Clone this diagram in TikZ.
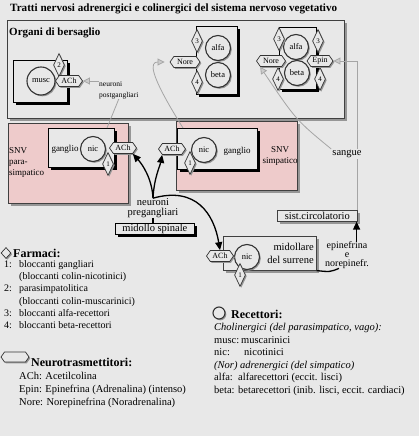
\documentclass[tikz,border=0pt]{standalone}
\usepackage{fontspec}
\setmainfont{Liberation Serif}
\usepackage{xcolor}
\usepackage{tikz}
\usetikzlibrary{shapes.geometric, shapes.symbols, arrows.meta, shadows}

\definecolor{bgcol}{RGB}{232,232,232}
\definecolor{pinkcol}{RGB}{238,203,203}
\definecolor{shadecol}{RGB}{150,150,150}
\definecolor{wirecol}{RGB}{165,165,165}

\begin{document}
\begin{tikzpicture}[x=1pt, y=-1pt,
    panel/.style={draw=black!75, line width=0.6pt, fill=bgcol, inner sep=0pt,
      drop shadow={shadow xshift=3pt, shadow yshift=-3pt, fill=shadecol, opacity=1}},
    pinkpanel/.style={panel, fill=pinkcol},
    organ/.style={draw=black, line width=1pt, fill=bgcol, inner sep=0pt,
      drop shadow={shadow xshift=2.5pt, shadow yshift=-2.5pt, fill=black, opacity=1}},
    spinebox/.style={organ, line width=0.7pt, font=\fontsize{10.5}{11}\selectfont},
    recept/.style={circle, draw=black!80, line width=1.1pt, fill=bgcol, inner sep=0pt,
      minimum size=25pt, font=\fontsize{8.5}{9}\selectfont,
      drop shadow={shadow xshift=1.3pt, shadow yshift=-1.3pt, fill=shadecol, opacity=1}},
    drug/.style={diamond, shape aspect=0.5, draw=black!80, line width=0.7pt, fill=bgcol,
      inner sep=0pt, minimum width=11pt, minimum height=23pt, font=\fontsize{7}{8}\selectfont,
      drop shadow={shadow xshift=1.3pt, shadow yshift=-1.3pt, fill=shadecol, opacity=1}},
    transm/.style={signal, signal to=east and west, signal pointer angle=110,
      draw=black!80, line width=0.7pt, fill=bgcol, inner sep=1pt,
      minimum width=27pt, minimum height=11pt, font=\fontsize{8}{9}\selectfont,
      drop shadow={shadow xshift=1.3pt, shadow yshift=-1.3pt, fill=shadecol, opacity=1}},
    titletext/.style={font=\bfseries\fontsize{11.1}{12}\selectfont, inner sep=0pt},
    headtext/.style={font=\bfseries\fontsize{12}{13}\selectfont, inner sep=0pt},
    smalltext/.style={font=\fontsize{9}{11}\selectfont, inner sep=0pt},
    tinytext/.style={font=\fontsize{7.5}{11}\selectfont, inner sep=0pt},
    labtext/.style={font=\fontsize{10.5}{10}\selectfont, inner sep=0pt},
    listtext/.style={font=\fontsize{10.5}{13}\selectfont, inner sep=0pt},
    blackarrow/.style={draw=black, line width=1.3pt, -{Triangle[length=8pt, width=7pt]}},
    blackline/.style={draw=black, line width=1.3pt},
    greyarrow/.style={draw=wirecol, line width=0.8pt,
      -{Triangle[length=7pt, width=7pt, fill=gray!40, color=wirecol]}},
    greyline/.style={draw=wirecol, line width=0.8pt}]

  % background
  \fill[bgcol] (0,0) rectangle (419,436);
  \useasboundingbox (0,0) rectangle (419,436);

  \node[titletext, anchor=west] (title) at (10,9)
    {Tratti nervosi adrenergici e colinergici del sistema nervoso vegetativo};

  % Organi di bersaglio
  \node[panel, anchor=north west, minimum width=337pt, minimum height=98pt] (organi) at (7,20) {};
  \node[headtext, font=\bfseries\fontsize{11}{12}\selectfont, anchor=west] (organilab) at (9,33) {Organi di bersaglio};

  \node[organ, anchor=north west, minimum width=54pt, minimum height=42pt] (muscorg) at (13,60) {};
  \node[recept, minimum size=28pt] (musc) at (41,81) {musc};
  \node[drug] (dmusc) at (59,65) {2};
  \node[transm] (achmusc) at (69,81) {ACh};
  \node[tinytext, anchor=north west, align=left] (postlab) at (99,81) {neuroni\\postgangliari};

  \node[organ, anchor=north west, minimum width=41pt, minimum height=68pt] (adrorg) at (196,26) {};
  \node[recept] (alfaA) at (218,48) {alfa};
  \node[recept] (betaA) at (218,75) {beta};
  \node[drug] (dalfaA) at (197,41) {3};
  \node[drug] (dbetaA) at (197,82) {4};
  \node[transm, minimum width=30pt] (noreA) at (185,62) {Nore};

  \node[organ, anchor=north west, minimum width=37pt, minimum height=62pt] (blodorg) at (279,27) {};
  \node[recept] (alfaB) at (296,47) {alfa};
  \node[recept] (betaB) at (297,73) {beta};
  \node[drug] (dalfaB) at (279,39) {3};
  \node[drug] (dalfaC) at (318,41) {3};
  \node[drug] (dbetaB) at (278,79) {4};
  \node[drug] (dbetaC) at (320,79) {4};
  \node[transm, minimum width=29pt] (noreB) at (271,61) {Nore};
  \node[transm, minimum width=26pt] (epinB) at (320,61) {Epin};

  % SNV parasimpatico
  \node[pinkpanel, anchor=north west, minimum width=120pt, minimum height=80pt] (snvpara) at (8,123) {};
  \node[smalltext, anchor=north west, align=left] (paralab) at (9,147) {SNV\\para-\\simpatico};
  \node[organ, anchor=north west, minimum width=66pt, minimum height=39pt] (gpara) at (48,128) {};
  \node[smalltext] (gparalab) at (65,149) {ganglio};
  \node[recept] (nicpara) at (93,149) {nic};
  \node[drug] (dpara) at (108,164) {1};
  \node[transm] (achpara) at (123,148) {ACh};

  % SNV simpatico
  \node[pinkpanel, anchor=north west, minimum width=121pt, minimum height=69pt] (snvsimp) at (176,121) {};
  \node[organ, anchor=north west, minimum width=80pt, minimum height=41pt] (gsimp) at (177,128) {};
  \node[recept] (nicsimp) at (204,150) {nic};
  \node[smalltext] (gsimplab) at (237,151) {ganglio};
  \node[drug] (dsimp) at (190,163) {1};
  \node[transm] (achsimp) at (172,149) {ACh};
  \node[smalltext, align=center] (simplab) at (280,156) {SNV\\simpatico};

  % midollo spinale
  \node[labtext, align=center] (prelab) at (153,208) {neuroni\\pregangliari};
  \node[spinebox, anchor=north west, minimum width=79pt, minimum height=11pt] (spinale) at (115,223) {midollo spinale};

  % midollare del surrene
  \node[panel, anchor=north west, minimum width=93pt, minimum height=34pt] (surrene) at (223,236) {};
  \node[labtext, anchor=north east, align=right, font=\fontsize{10.5}{13}\selectfont] (surlab) at (314,243) {midollare\\del surrene};
  \node[recept] (nicsur) at (247,257) {nic};
  \node[drug] (dsur) at (240,275) {1};
  \node[transm] (achsur) at (220,256) {ACh};
  \node[labtext, align=center, font=\fontsize{10}{8.6}\selectfont] (epilab) at (347,255) {epinefrina\\e\\norepinefr.};

  % sistema circolatorio
  \node[panel, font=\fontsize{10.5}{11}\selectfont, anchor=north west, minimum width=80pt, minimum height=11pt] (circ) at (277,210) {sist.circolatorio};
  \node[labtext, fill=bgcol, inner sep=1pt] (sangue) at (347,154) {sangue};

  % connectors
  \draw[greyarrow] (postlab.west |- achmusc) -- (achmusc.east);
  \draw[greyline] (postlab.south) -- ([xshift=-8pt]gpara.north east);
  \draw[greyarrow, shorten >=5pt] ([xshift=6pt]gsimp.north west) .. controls (148,72) and (150,62) .. (noreA.west);
  \draw[greyline] (circ.north east) -- (sangue.south -| circ.north east);
  \draw[greyarrow] (sangue.north -| circ.north east) -- (circ.north east |- epinB.east) -- (epinB.east);
  \draw[greyarrow] (sangue.north west) .. controls (296,120) .. (noreB.south west);

  \draw[blackarrow] (prelab.north) .. controls (152,178) and (142,164) .. (achpara.south east);
  \draw[blackarrow] (prelab.north) .. controls (154,178) and (160,166) .. (achsimp.south west);
  \draw[blackarrow] (prelab.north) .. controls (196,186) and (214,214) .. (achsur.north);
  \draw[blackline] (prelab.south) -- (prelab.south |- spinale.north);
  \draw[blackline] (surrene.south east) .. controls (330,272) .. ([xshift=14pt]epilab.south west);
  \draw[blackarrow] ([xshift=-1pt]epilab.north -| circ.south east) -- ([xshift=-1pt]circ.south east);

  % Farmaci
  \node[drug, minimum width=10pt, minimum height=11pt] (farmicon) at (6,253) {};
  \node[headtext, anchor=west] (farmlab) at (13,253) {Farmaci:};
  \node[listtext, font=\fontsize{10}{12.3}\selectfont, anchor=north west, align=left] (farmlist) at (4,260)
    {\makebox[15pt][l]{1:}bloccanti gangliari\\
     \makebox[15pt][l]{}(bloccanti colin-nicotinici)\\
     \makebox[15pt][l]{2:}parasimpatolitica\\
     \makebox[15pt][l]{}(bloccanti colin-muscarinici)\\
     \makebox[15pt][l]{3:}bloccanti alfa-recettori\\
     \makebox[15pt][l]{4:}bloccanti beta-recettori};

  % Neurotrasmettitori
  \node[transm, minimum width=28pt, minimum height=10pt, inner sep=0pt] (ntricon) at (15,357) {};
  \node[headtext, anchor=west] (ntrlab) at (31,362) {Neurotrasmettitori:};
  \node[listtext, anchor=north west, align=left] (ntrlist) at (19,372)
    {ACh: Acetilcolina\\
     Epin: Epinefrina (Adrenalina) (intenso)\\
     Nore: Norepinefrina (Noradrenalina)};

  % Recettori
  \node[recept, minimum size=12pt] (recicon) at (219,313) {};
  \node[headtext, anchor=west] (reclab) at (231,314) {Recettori:};
  \node[listtext, font=\fontsize{10.5}{12.6}\selectfont, anchor=north west, align=left] (reclist) at (214,323)
    {\textit{Cholinergici (del parasimpatico, vago):}\\
     \makebox[27pt][l]{musc:}muscarinici\\
     \makebox[30pt][l]{nic:}nicotinici\\
     \textit{(Nor) adrenergici (del simpatico)}\\
     \makebox[24pt][l]{alfa:}alfarecettori (eccit. lisci)\\
     \makebox[24pt][l]{beta:}betarecettori (inib. lisci, eccit. cardiaci)};
\end{tikzpicture}
\end{document}
